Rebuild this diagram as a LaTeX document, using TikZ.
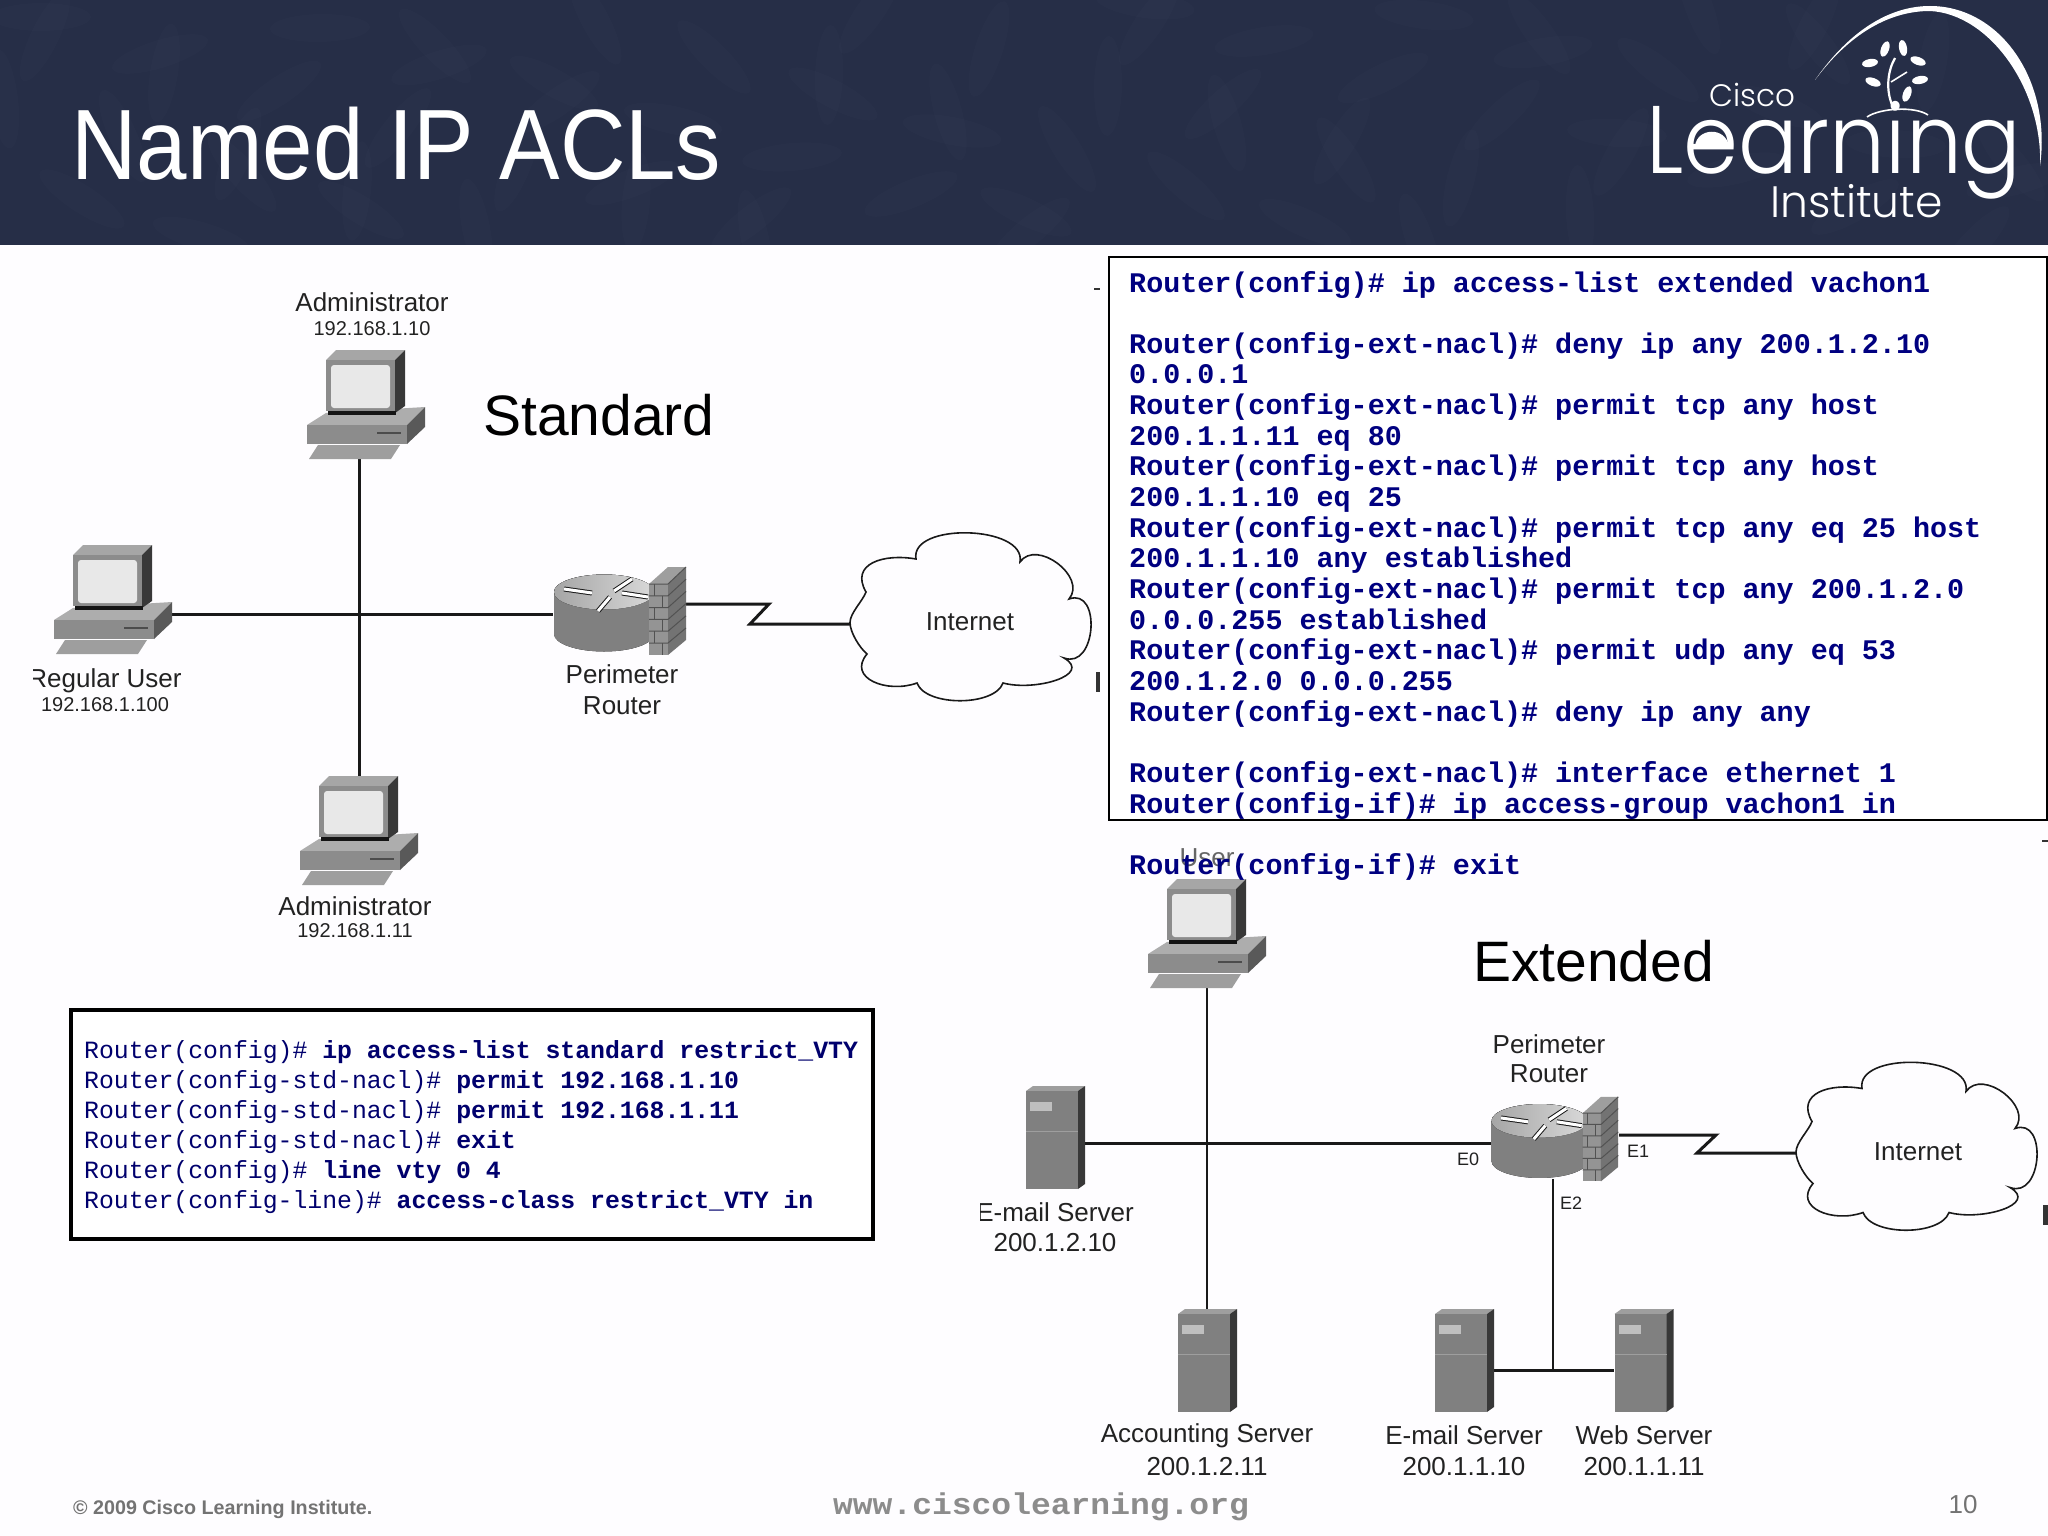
\documentclass[tikz,border=0pt]{standalone}
\usepackage{fontspec}
\setmainfont{Liberation Sans}
\newfontfamily\monofam{Liberation Mono}
\newfontfamily\logofam{Poppins Light}
\definecolor{navyhead}{HTML}{262E47}
\definecolor{cmdblue}{HTML}{000080}
\definecolor{pagebg}{HTML}{FEFDFF}
\definecolor{inkgray}{HTML}{222222}
\tikzset{
  conn/.style={line width=3pt,draw=black!90},
  thin conn/.style={line width=2.4pt,draw=black!90},
  lab/.style={font=\fontsize{26}{30}\selectfont,text=inkgray,inner sep=0pt},
  sublab/.style={font=\fontsize{20}{24}\selectfont,text=inkgray,inner sep=0pt},
  iface/.style={font=\fontsize{18}{22}\selectfont,text=inkgray,inner sep=0pt},
  big/.style={font=\fontsize{57}{60}\selectfont,text=black,inner sep=0pt,anchor=base west},
  cmd/.style={font=\monofam\bfseries\fontsize{28.4}{30}\selectfont,text=cmdblue,inner sep=0pt,anchor=base west},
  std/.style={font=\monofam\fontsize{24.8}{30}\selectfont,text=cmdblue!85!black,inner sep=0pt,anchor=base west},
  frag/.style={fill=black!80,draw=none},
  pics/pc/.style={code={
    % keyboard
    \fill[black!38] (-41,-14)--(41,-14)--(32,0)--(-50,0)--cycle;
    % base
    \fill[black!32] (-52,-34)--(-33,-46)--(66,-52)--(48,-34)--cycle;
    \fill[black!45] (-52,-34) rectangle (48,-15);
    \fill[black!65] (48,-34)--(66,-52)--(66,-32)--(48,-15)--cycle;
    \draw[black!70,line width=1.5pt] (18,-26)--(42,-26);
    % monitor
    \fill[black!35] (-33,-99)--(-23,-109)--(46,-109)--(36,-99)--cycle;
    \fill[black!45] (-33,-99) rectangle (36,-48);
    \fill[black!78] (36,-99)--(46,-109)--(46,-53)--(36,-46)--cycle;
    \fill[black!92] (-31,-48) rectangle (37,-44);
    \fill[black!9,rounded corners=3pt] (-28,-94) rectangle (31,-51);
  }},
  pics/server/.style={code={
    \fill[black!38] (0,0)--(7,-5)--(59,-5)--(52,0)--cycle;
    \fill[black!50] (0,0) rectangle (52,98);
    \fill[black!78] (52,0)--(59,-5)--(59,93)--(52,98)--cycle;
    \fill[black!25] (4,11) rectangle (26,20);
    \draw[black!38,line width=1pt] (0,40)--(52,40);
  }},
  pics/router/.style={code={
    % body
    \fill[left color=black!50,middle color=white,right color=black!50]
      (-50,-21) -- (-50,21) arc[start angle=180,end angle=0,x radius=50,y radius=17.5]
      -- (50,-21) arc[start angle=0,end angle=-180,x radius=50,y radius=17.5];
    \fill[left color=black!35,right color=black!15] (0,-21) ellipse[x radius=50,y radius=17.5];
    \foreach \a/\b/\c/\d in {-40/-24/-12/-20, 28/-34/10/-22, -6/-2/6/-16, 44/-16/18/-20}{
      \draw[black!90,line width=5pt] (\a,\b)--(\c,\d);
      \draw[white,line width=3pt] (\a,\b)--(\c,\d);
    }
    % firewall
    \fill[black!38] (45,-29)--(64,-29)--(82,-46)--(64,-46)--cycle;
    \fill[black!42] (45,-29) rectangle (64,42);
    \fill[black!55] (64,-29)--(82,-46)--(82,27)--(64,42)--cycle;
    \foreach \k in {0,1,2,3,4,5}{
      \draw[black!68,line width=1pt] (45,{-29+\k*11.8})--(64,{-29+\k*11.8})--(82,{-46+\k*12.2});
      \draw[black!68,line width=1pt] ({50+mod(\k,2)*8},{-29+\k*11.8})--++(0,11.8);
    }
  }},
  pics/cloud/.style={code={
    \draw[line width=1.6pt,draw=black!90,fill=pagebg]
      (-121,5.5) to[out=90,in=-110,looseness=.7] (-105,-25)
      to[out=120,in=170,looseness=1.4] (-55,-58)
      to[out=100,in=80,looseness=.92] (49,-55)
      to[out=55,in=50,looseness=1.2] (98,-18)
      to[out=20,in=-20,looseness=1.5] (93,41)
      to[out=-30,in=-15,looseness=1.3] (32,66)
      to[out=-110,in=-70,looseness=.75] (-54,66)
      to[out=-160,in=-130,looseness=1.4] (-104,37)
      to[out=140,in=-90,looseness=.7] (-121,5.5) -- cycle;
  }},
}
\begin{document}
\begin{tikzpicture}[x=1pt,y=-1pt]
\useasboundingbox (0,0) rectangle (2048,1536);
\fill[pagebg] (0,0) rectangle (2048,1536);
% header
\fill[navyhead] (0,0) rectangle (2048,245);
\begin{scope}
\clip (0,0) rectangle (2048,245);
\foreach \i in {0,...,70}{
  \pgfmathsetmacro{\px}{mod(\i*197+41,2048)}
  \pgfmathsetmacro{\py}{mod(\i*137+17,245)}
  \pgfmathsetmacro{\ro}{mod(\i*67,180)}
  \fill[white,opacity=.01,rotate around={\ro:(\px,\py)}] (\px,\py) ellipse[x radius=50,y radius=14];
}
\end{scope}
\node[anchor=base west,inner sep=0pt,text=white,font=\fontsize{100}{110}\selectfont,xscale=.907] (title) at (71,179) {Named IP ACLs};
% logo
\node[anchor=base west,inner sep=0pt,text=white,font=\logofam\fontsize{31}{34}\selectfont] (lgA) at (1709,107) {Cisco};
\node[anchor=base west,inner sep=0pt,text=white,font=\logofam\fontsize{96}{100}\selectfont,xscale=.92] (lgB) at (1646,173) {Learning};
\node[anchor=base west,inner sep=0pt,text=white,font=\logofam\fontsize{44}{50}\selectfont] (lgC) at (1770,217) {Institute};
\fill[white] (1695,146) .. controls (1697,128) and (1725,126) .. (1729,146) -- cycle;
\fill[white] (1815,80) .. controls (1850,30) and (1890,6) .. (1930,6) .. controls (2000,6) and (2052,80) .. (2040,166)
  .. controls (2043,90) and (1990,14) .. (1930,11) .. controls (1890,11) and (1850,33) .. (1815,80) -- cycle;
\foreach \lx/\ly/\lr in {1885/49/70,1903/48/100,1870/63/10,1918/61/-20,1873/82/-20,1920/80/10,1907/94/70}{
  \fill[white,rotate around={\lr:(\lx,\ly)}] (\lx,\ly) ellipse[x radius=8,y radius=4];
}
\draw[white,line width=2.2pt] (1893,107) .. controls (1885,90) and (1888,70) .. (1895,58);
\draw[white,line width=1.6pt] (1891,82) -- (1907,72);
\draw[white,line width=1.6pt] (1867,117) .. controls (1880,108) and (1915,106) .. (1928,115);
% left diagram
\coordinate (pcT) at (359,459);
\coordinate (pcL) at (171,614);
\coordinate (pcB) at (359,776);
\coordinate (rA) at (553,614);
\coordinate (rAfw) at (686,604);
\coordinate (zA1) at (769,604);
\coordinate (zA2) at (750,624);
\coordinate (clA) at (850,624);
\draw[conn] (pcL) -- (rA);
\draw[conn] (pcT) -- (pcB);
\draw[conn] (rAfw) -- (zA1) -- (zA2) -- (clA);
\pic at (359,459) {pc};
\pic at (106,654) {pc};
\pic at (352,885) {pc};
\pic at (604,613) {router};
\pic at (971,617) {cloud};
\node[lab] (a1) at (372,302) {Administrator};
\node[sublab] (a1b) at (372,329) {192.168.1.10};
\node[lab] (u1) at (105,681) {Regular User};
\node[sublab] (u1b) at (105,705) {192.168.1.100};
\fill[pagebg] (20,665) rectangle (33,697);
\node[lab] (p1) at (622,674) {Perimeter};
\node[lab] (p1b) at (622,706) {Router};
\node[lab] (i1) at (970,622) {Internet};
\node[lab] (a2) at (355,906) {Administrator};
\node[sublab] (a2b) at (355,931) {192.168.1.11};
\node[big] (stdT) at (483,435) {Standard};
% standard box
\node[draw=black,line width=4pt,minimum width=802pt,minimum height=229pt,fill=white,anchor=north west,inner sep=0pt] (stdbox) at (69,1008) {};
\node[std] (s1) at (84,1058) {Router(config)\# \textbf{ip access-list standard restrict\_VTY}};
\node[std] (s2) at (84,1088) {Router(config-std-nacl)\# \textbf{permit 192.168.1.10}};
\node[std] (s3) at (84,1118) {Router(config-std-nacl)\# \textbf{permit 192.168.1.11}};
\node[std] (s4) at (84,1148) {Router(config-std-nacl)\# \textbf{exit}};
\node[std] (s5) at (84,1178) {Router(config)\# \textbf{line vty 0 4}};
\node[std] (s6) at (84,1208) {Router(config-line)\# \textbf{access-class restrict\_VTY in}};
% right diagram
\coordinate (pcU) at (1207,988);
\coordinate (srvAcc) at (1207,1310);
\coordinate (srvL) at (1083,1143);
\coordinate (rB) at (1493,1143);
\coordinate (rBb) at (1553,1179);
\coordinate (tee) at (1553,1370);
\coordinate (srvM) at (1493,1370);
\coordinate (srvW) at (1614,1370);
\coordinate (rBfw) at (1619,1135);
\coordinate (zB1) at (1716,1135);
\coordinate (zB2) at (1697,1153);
\coordinate (clB) at (1796,1153);
\draw[thin conn] (pcU) -- (srvAcc);
\draw[conn] (srvL) -- (rB);
\draw[thin conn] (rBb) -- (tee);
\draw[conn] (srvM) -- (srvW);
\draw[conn] (rBfw) -- (zB1) -- (zB2) -- (clB);
\node[lab,text=black!60] (uu) at (1207,858) {User};
\pic at (1200,988) {pc};
\pic at (1026,1091) {server};
\pic at (1178,1314) {server};
\pic at (1435,1314) {server};
\pic at (1614.5,1314) {server};
\pic[scale=.96] at (1539.5,1141) {router};
\pic at (1917,1146.5) {cloud};
\node[lab] (e1) at (1055,1212) {E-mail Server};
\node[lab] (e1b) at (1055,1243) {200.1.2.10};
\fill[pagebg] (960,1195) rectangle (980,1228);
\node[lab] (acc) at (1207,1436) {Accounting Server};
\node[lab] (accb) at (1207,1467) {200.1.2.11};
\node[lab] (em) at (1464,1435) {E-mail Server};
\node[lab] (emb) at (1464,1467) {200.1.1.10};
\node[lab] (we) at (1644,1435) {Web Server};
\node[lab] (web) at (1644,1467) {200.1.1.11};
\node[lab] (p2) at (1549,1044) {Perimeter};
\node[lab] (p2b) at (1549,1074) {Router};
\node[iface] (E0) at (1468,1159) {E0};
\node[iface] (E1) at (1638,1151) {E1};
\node[iface] (E2) at (1571,1203) {E2};
\node[lab] (i2) at (1918,1152) {Internet};
\node[big] (extT) at (1473,981) {Extended};
% extended box
\node[draw=black,line width=1.8pt,minimum width=938pt,minimum height=563pt,fill=white,anchor=north west,inner sep=0pt] (extbox) at (1108,256) {};
\foreach \n/\t in {
 0/Router(config)\# ip access-list extended vachon1,
 2/Router(config-ext-nacl)\# deny ip any 200.1.2.10,
 3/0.0.0.1,
 4/Router(config-ext-nacl)\# permit tcp any host,
 5/200.1.1.11 eq 80,
 6/Router(config-ext-nacl)\# permit tcp any host,
 7/200.1.1.10 eq 25,
 8/Router(config-ext-nacl)\# permit tcp any eq 25 host,
 9/200.1.1.10 any established,
 10/Router(config-ext-nacl)\# permit tcp any 200.1.2.0,
 11/0.0.0.255 established,
 12/Router(config-ext-nacl)\# permit udp any eq 53,
 13/200.1.2.0 0.0.0.255,
 14/Router(config-ext-nacl)\# deny ip any any,
 16/Router(config-ext-nacl)\# interface ethernet 1,
 17/Router(config-if)\# ip access-group vachon1 in,
 19/Router(config-if)\# exit}{
  \node[cmd] (cmd\n) at (1129,{292+\n*30.66}) {\t};
}
% clipped fragments at the frame edges
\fill[frag] (1094,288) rectangle (1100,290);
\fill[frag] (1096,672) rectangle (1100,692);
\fill[frag] (2042,840) rectangle (2048,842);
\fill[frag] (2043,1205) rectangle (2048,1225);
% footer
\node[anchor=base west,inner sep=0pt,text=black!55,font=\bfseries\fontsize{19.7}{22}\selectfont] (copy) at (73,1514) {© 2009 Cisco Learning Institute.};
\node[inner sep=0pt,text=black!45,font=\monofam\bfseries\fontsize{30}{32}\selectfont,xscale=1.1] (url) at (1041,1507) {www.ciscolearning.org};
\node[inner sep=0pt,text=black!55,font=\fontsize{26}{30}\selectfont] (num) at (1963,1505) {10};
\end{tikzpicture}
\end{document}
